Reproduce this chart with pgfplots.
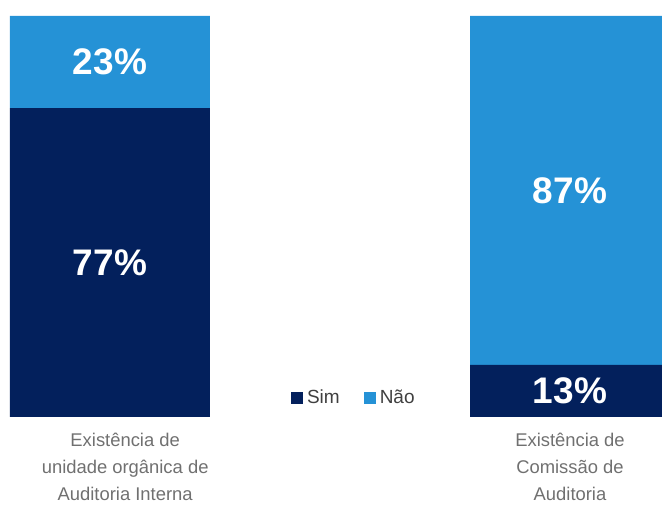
\documentclass[border=0pt]{standalone}
\usepackage{fontspec}
\setmainfont{Liberation Sans}
\usepackage{pgfplots}
\pgfplotsset{compat=1.18}
\definecolor{sim}{HTML}{03205C}
\definecolor{nao}{HTML}{2592D6}
\definecolor{lbl}{HTML}{707070}

\begin{document}
\begin{tikzpicture}
\useasboundingbox (0pt,-45pt) rectangle (331pt,208.5pt);
\begin{axis}[
  at={(0pt,0pt)}, anchor=south west,
  scale only axis, width=331pt, height=200.5pt,
  xmin=-0.2391, xmax=1.2, ymin=0, ymax=100,
  axis line style={draw=none},
  major tick length=0pt,
  ytick=\empty,
  xtick={0.033,1},
  xticklabels={{Existência de\\unidade orgânica de\\Auditoria Interna},
               {Existência de\\Comissão de\\Auditoria}},
  xticklabel style={align=center, font=\fontsize{9.2}{13.5}\selectfont,
                    text=lbl, anchor=north, yshift=-4.5pt},
  ybar stacked, bar width=0.4348,
  point meta=explicit,
  /pgf/number format/assume math mode=true,
  nodes near coords={\pgfmathprintnumber{\pgfplotspointmeta}\%},
  every node near coord/.append style={anchor=center, text=white,
     font=\bfseries\fontsize{18.5}{20}\selectfont},
  legend style={at={(0.536,0.047)}, anchor=center, draw=none, fill=none,
     font=\fontsize{9.5}{11}\selectfont, text=darkgray,
     /tikz/every even column/.append style={column sep=10pt}},
  legend columns=2,
  legend image code/.code={\fill[#1] (0pt,-3pt) rectangle (6pt,3pt);},
]
\addplot[fill=sim, draw=none] coordinates {(0,77) [77] (1,13) [13]};
\addplot[fill=nao, draw=none] coordinates {(0,23) [23] (1,87) [87]};
\legend{Sim, Não}
\end{axis}
\end{tikzpicture}
\end{document}
